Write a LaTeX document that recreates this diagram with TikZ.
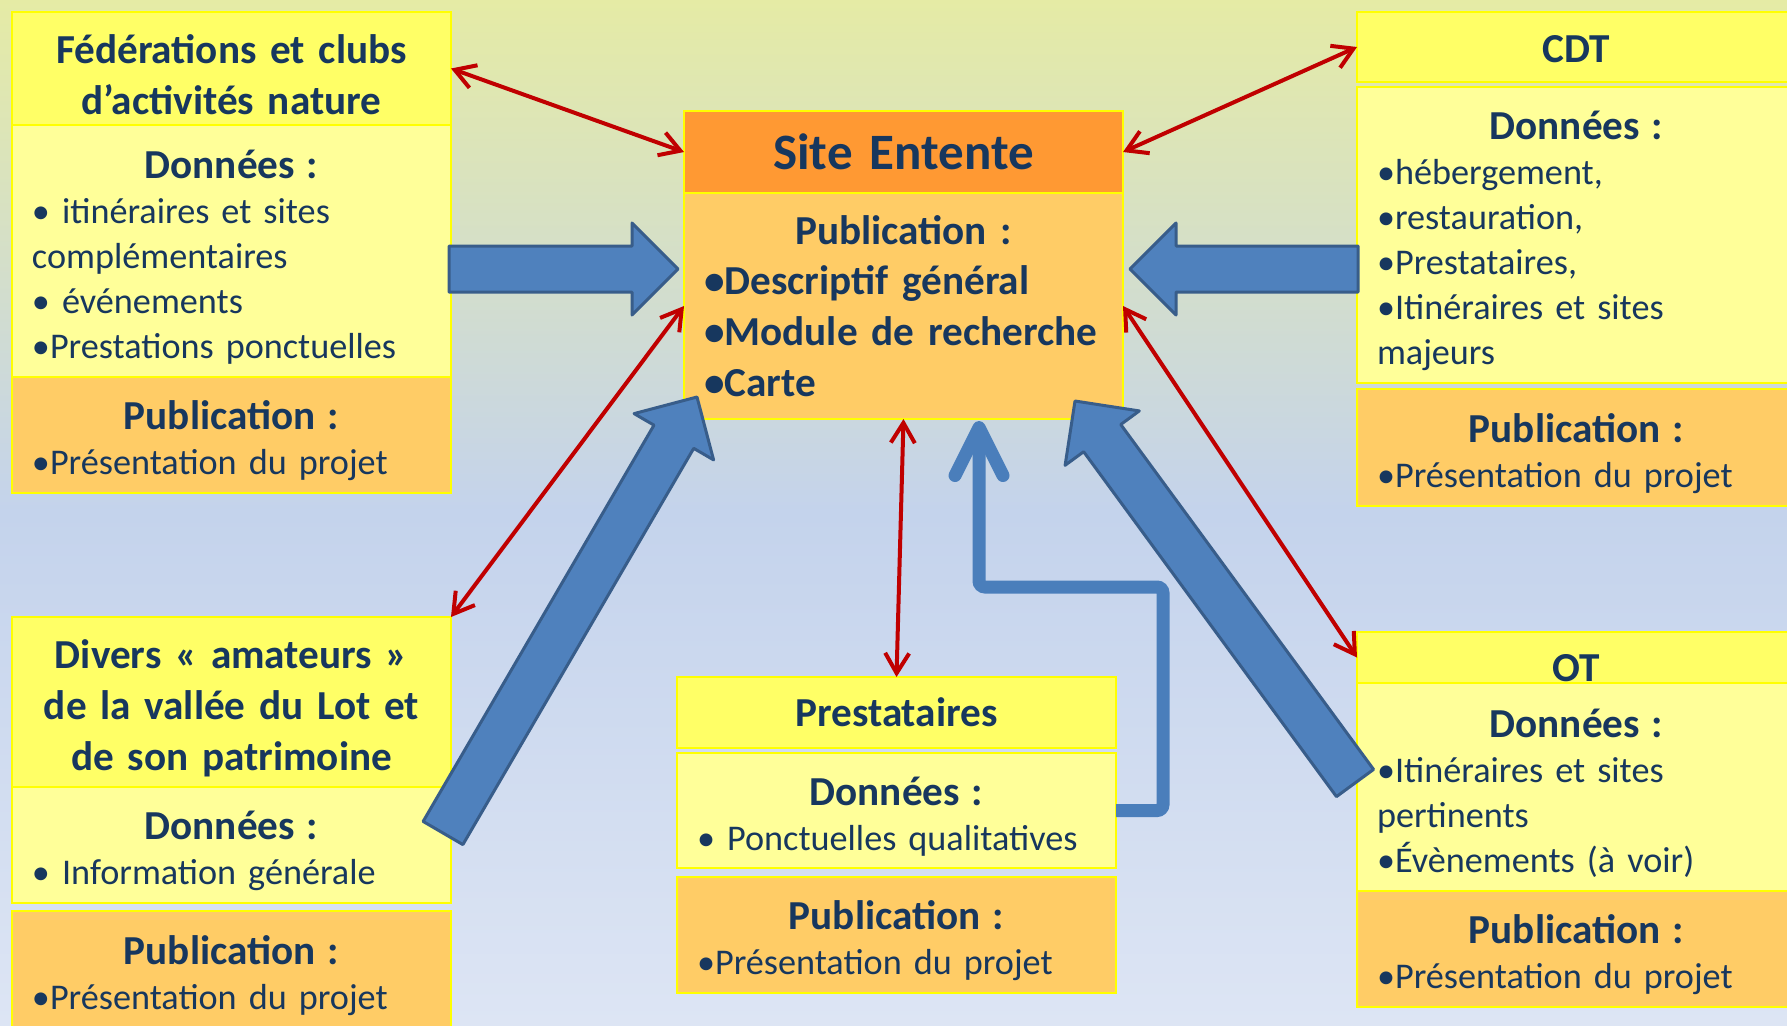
\documentclass[tikz,border=0pt]{standalone}
\usepackage{fontspec}
\setmainfont{Carlito}
\usetikzlibrary{arrows.meta,calc,positioning}

\definecolor{txt}{HTML}{17375E}
\definecolor{secline}{HTML}{FFFF00}
\definecolor{titlefill}{HTML}{FFFF66}
\definecolor{datafill}{HTML}{FFFF99}
\definecolor{pubfill}{HTML}{FFCC66}
\definecolor{sitefill}{HTML}{FF9933}
\definecolor{arrowfill}{HTML}{4F81BD}
\definecolor{arrowline}{HTML}{385D8A}
\definecolor{flowblue}{HTML}{4A7EBB}
\definecolor{linkred}{HTML}{C00000}
\definecolor{bgtop}{RGB}{229,235,165}
\definecolor{bgmid}{RGB}{196,211,236}
\definecolor{bgbot}{RGB}{221,229,244}

\newcommand\bodyfont{\fontsize{18.1}{22.5}\selectfont}
\newcommand\hdfont{\fontsize{20.6}{25.4}\selectfont\bfseries}
\newcommand\sitefont{\fontsize{25.5}{31}\selectfont\bfseries}
% taller first line, pushes multi-line texts a little down
\newcommand\dn{\rule{0pt}{20.5pt}}

% block arrow from #1 (tail) to #2 (tip)
\newcommand\blockarrow[2]{%
  \coordinate (ba) at ($(#2)!23pt!(#1)$);
  \draw[bigarrow] ($(#1)!11.5pt!90:(#2)$) -- ($(ba)!11.5pt!90:(#2)$) -- ($(ba)!23pt!90:(#2)$)
    -- (#2) -- ($(ba)!23pt!-90:(#2)$) -- ($(ba)!11.5pt!-90:(#2)$) -- ($(#1)!11.5pt!-90:(#2)$) -- cycle;}

\begin{document}
\begin{tikzpicture}[x=0.5pt,y=-0.5pt,
  sec/.style={draw=secline,line width=1.25pt,outer sep=0pt,inner xsep=10pt,inner ysep=1pt,
    text width=199.5pt,text=txt,font=\bodyfont,align=left},
  titlesec/.style={sec,fill=titlefill,font=\hdfont,align=center},
  datasec/.style={sec,fill=datafill},
  pubsec/.style={sec,fill=pubfill},
  redlink/.style={draw=linkred,line width=2pt,
    {Straight Barb[length=10pt,width=12pt]}-{Straight Barb[length=10pt,width=12pt]}},
  bigarrow/.style={draw=arrowline,fill=arrowfill,line width=1.5pt,line join=round},
  backflow/.style={draw=flowblue,line width=6.5pt,rounded corners=3pt,
    -{Straight Barb[length=24pt,width=24pt,round]}}]
\useasboundingbox (0,0) rectangle (1787,1025);
\clip (0,0) rectangle (1787,1025);
\shade[top color=bgtop,bottom color=bgbot,middle color=bgmid] (0,0) rectangle (1787,1025);

% left column
\node[titlesec,anchor=north west,minimum height=56.5pt] (fedT) at (12,12) {\dn Fédérations et clubs\\d’activités nature};
\node[datasec,minimum height=126pt,below=0pt of fedT] (fedD) {{\centering\hdfont\dn Données :\par}
  • itinéraires et sites\\complémentaires\\• événements\\•Prestations ponctuelles};
\node[pubsec,minimum height=58pt,below=0pt of fedD] (fedP) {{\centering\hdfont\dn Publication :\par}•Présentation du projet};

\node[titlesec,anchor=north west,minimum height=85pt] (divT) at (12,617) {\dn Divers « amateurs »\\de la vallée du Lot et\\de son patrimoine};
\node[datasec,minimum height=58pt,below=0pt of divT] (divD) {{\centering\hdfont\dn Données :\par}• Information générale};
\node[pubsec,minimum height=59pt,below=4pt of divD] (divP) {{\centering\hdfont\dn Publication :\par}•Présentation du projet};

% centre
\node[titlesec,anchor=north west,fill=sitefill,font=\sitefont,minimum height=41pt] (cenT) at (684,111) {Site Entente};
\node[pubsec,font=\hdfont,minimum height=113pt,below=0pt of cenT] (cenB) {{\centering Publication :\par}
  •Descriptif général\\\mbox{•Module de recherche}\\•Carte};

\node[titlesec,anchor=north west,minimum height=35.5pt] (preT) at (677,677) {Prestataires};
\node[datasec,minimum height=57.5pt,below=2.5pt of preT] (preD) {{\centering\hdfont\dn Données :\par}• Ponctuelles qualitatives};
\node[pubsec,minimum height=58pt,below=4.5pt of preD] (preP) {{\centering\hdfont\dn Publication :\par}•Présentation du projet};

% right column
\node[titlesec,anchor=north west,minimum height=35pt,text height=15.5pt,text depth=0pt] (cdtT) at (1357,12) {CDT};
\node[datasec,minimum height=148pt,below=2.5pt of cdtT] (cdtD) {{\centering\hdfont\dn Données :\par}
  •hébergement,\\•restauration,\\•Prestataires,\\•Itinéraires et sites\\majeurs};
\node[pubsec,minimum height=58.5pt,below=3pt of cdtD] (cdtP) {{\centering\hdfont\dn Publication :\par}•Présentation du projet};

\node[titlesec,anchor=north west,minimum height=25.5pt,inner ysep=0pt,text height=24pt,text depth=0pt] (otT) at (1357,632) {OT};
\node[datasec,minimum height=104pt,below=0pt of otT] (otD) {{\centering\hdfont\dn Données :\par}
  •Itinéraires et sites\\pertinents\\•Évènements (à voir)};
\node[pubsec,minimum height=58pt,below=0pt of otD] (otP) {{\centering\hdfont\dn Publication :\par}•Présentation du projet};

% exchanges
\draw[redlink] (fedT.east) -- (cenT.west);
\draw[redlink] (cenT.east) -- (cdtT.west);
\draw[redlink] (cenB.west) -- (divT.north east);
\draw[redlink] (cenB.east) -- (otT.west);
\draw[redlink] (cenB.south) -- (preT.north);

% data flows
\coordinate (fed out) at (449,269);
\coordinate (cen in l) at (678,269);
\coordinate (cdt out) at (1358,269);
\coordinate (cen in r) at (1130,269);
\coordinate (div out) at (443,833);
\coordinate (cen in bl) at (697,397);
\coordinate (ot out) at (1355,783);
\coordinate (cen in br) at (1075,401);
\blockarrow{fed out}{cen in l}
\blockarrow{cdt out}{cen in r}
\blockarrow{div out}{cen in bl}
\blockarrow{ot out}{cen in br}

\coordinate (flow tip) at (979,421);
\draw[backflow] (preD.east) -- ++(47,0) -- ++(0,-223.5) -| (flow tip);
\end{tikzpicture}
\end{document}
